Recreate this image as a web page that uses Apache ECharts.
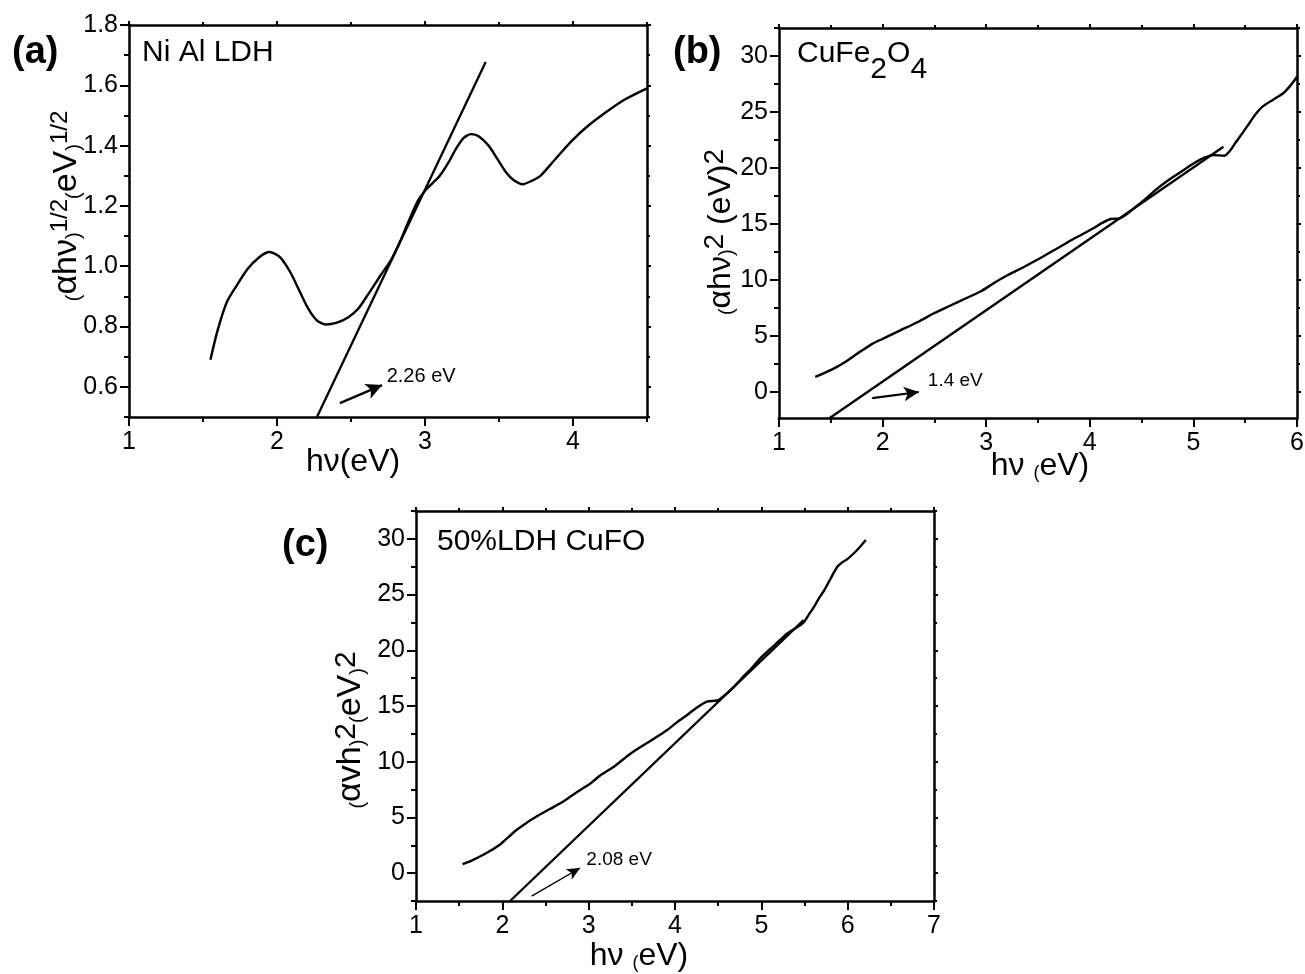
<!DOCTYPE html>
<html>
<head>
<meta charset="utf-8">
<script src="https://cdn.jsdelivr.net/npm/echarts@6.0.0/dist/echarts.min.js"></script>
<style>
html, body { margin: 0; padding: 0; background: #fff; }
#chart { width: 1305px; height: 974px; }
</style>
</head>
<body>
<div id="chart"></div>
<script>
// values
var curveA = [[1.55,0.69],[1.60,0.79],[1.66,0.88],[1.72,0.93],[1.80,0.99],[1.88,1.03],[1.95,1.047],[2.02,1.03],[2.09,0.98],[2.15,0.92],[2.21,0.86],[2.27,0.82],[2.33,0.807],[2.40,0.812],[2.48,0.83],[2.55,0.86],[2.62,0.91],[2.70,0.97],[2.77,1.02],[2.83,1.08],[2.89,1.15],[2.95,1.215],[3.00,1.25],[3.05,1.275],[3.10,1.30],[3.16,1.345],[3.21,1.39],[3.26,1.425],[3.31,1.438],[3.36,1.432],[3.43,1.40],[3.49,1.355],[3.55,1.31],[3.60,1.285],[3.66,1.272],[3.72,1.283],[3.78,1.30],[3.88,1.355],[3.99,1.415],[4.10,1.465],[4.22,1.51],[4.35,1.553],[4.50,1.59]];
var tangentA = [[2.27, 0.5], [3.41, 1.677]];
var arrowA = [[2.425, 0.546], [2.71, 0.606]];

var curveB = [[1.35,1.35],[1.45,1.75],[1.55,2.2],[1.65,2.75],[1.72,3.2],[1.80,3.7],[1.90,4.3],[2.00,4.75],[2.17,5.5],[2.35,6.3],[2.50,7.05],[2.65,7.7],[2.80,8.35],[2.95,9.0],[3.07,9.7],[3.20,10.4],[3.35,11.1],[3.55,12.1],[3.70,12.9],[3.85,13.7],[4.03,14.6],[4.12,15.1],[4.20,15.45],[4.29,15.5],[4.36,15.9],[4.45,16.6],[4.52,17.1],[4.63,18.0],[4.74,18.8],[4.87,19.6],[5.00,20.4],[5.10,20.9],[5.19,21.15],[5.30,21.1],[5.35,21.5],[5.41,22.3],[5.48,23.2],[5.54,24.0],[5.60,24.8],[5.67,25.5],[5.77,26.1],[5.87,26.7],[5.94,27.4],[6.00,28.15]];
var tangentB = [[1.49, -2.32], [5.29, 21.9]];
var arrowB = [[1.90, -0.54], [2.35, 0.0]];

var curveC = [[1.54,0.8],[1.65,1.15],[1.78,1.65],[1.88,2.1],[1.97,2.55],[2.08,3.3],[2.16,3.85],[2.25,4.35],[2.40,5.1],[2.55,5.75],[2.71,6.45],[2.85,7.2],[3.02,8.05],[3.14,8.8],[3.30,9.6],[3.48,10.7],[3.70,11.8],[3.91,12.85],[4.05,13.7],[4.14,14.2],[4.25,14.85],[4.37,15.4],[4.49,15.5],[4.58,16.0],[4.68,16.7],[4.80,17.7],[4.90,18.5],[4.99,19.3],[5.10,20.1],[5.20,20.8],[5.30,21.5],[5.40,22.0],[5.49,22.5],[5.55,23.2],[5.61,23.9],[5.67,24.7],[5.73,25.4],[5.80,26.4],[5.88,27.5],[5.94,27.9],[6.00,28.2],[6.11,29.0],[6.21,29.9]];
var tangentC = [[2.09, -2.5], [5.49, 22.7]];
var arrowC = [[2.34, -2.06], [2.90, 0.46]];

var xTicksA = [1, 2, 3, 4];
var yTicksA = [0.6, 0.8, 1.0, 1.2, 1.4, 1.6, 1.8];
var xTicksB = [1, 2, 3, 4, 5, 6];
var xTicksC = [1, 2, 3, 4, 5, 6, 7];
var yTicksBC = [0, 5, 10, 15, 20, 25, 30];
var gapLabels = ['2.26 eV', '1.4 eV', '2.08 eV'];

var FONT = "'Liberation Sans', Arial, sans-serif";

var panels = [
  { grid: { left: 129, top: 25, width: 518, height: 392 }, x: [1, 4.5], y: [0.5, 1.8],
    xt: xTicksA, yt: yTicksA, xs: 1, ys: 0.2, yfmt: function (v) { return v.toFixed(1); },
    curve: curveA, tan: tangentA, arrow: arrowA, gap: gapLabels[0],
    padX: 0, lift: 7, gapSize: 20, arrowW: 2.4, arrowSym: [12, 16] },
  { grid: { left: 779, top: 28, width: 518, height: 390 }, x: [1, 6], y: [-2.32, 32.5],
    xt: xTicksB, yt: yTicksBC, xs: 1, ys: 5, yfmt: function (v) { return String(v); },
    curve: curveB, tan: tangentB, arrow: arrowB, gap: gapLabels[1],
    padX: 4, lift: 11, gapSize: 19, arrowW: 2.2, arrowSym: [11, 15] },
  { grid: { left: 416, top: 511, width: 518, height: 390 }, x: [1, 7], y: [-2.5, 32.5],
    xt: xTicksC, yt: yTicksBC, xs: 1, ys: 5, yfmt: function (v) { return String(v); },
    curve: curveC, tan: tangentC, arrow: arrowC, gap: gapLabels[2],
    padX: 2, lift: 6, gapSize: 19, arrowW: 1.4, arrowSym: [9, 13] }
];

function halfSteps(ticks, step, lo, hi) {
  var out = [];
  ticks.forEach(function (t) {
    [t - step / 2, t + step / 2].forEach(function (v) {
      v = +v.toFixed(4);
      if (v >= lo - 1e-9 && v <= hi + 1e-9 && out.indexOf(v) < 0) out.push(v);
    });
  });
  return out;
}

function axis(gi, pos, range, ticks, len, withLine, label) {
  return {
    type: 'value', gridIndex: gi, position: pos, min: range[0], max: range[1],
    splitLine: { show: false },
    axisLine: { show: withLine, onZero: false, lineStyle: { color: '#000', width: 2.5, cap: 'square' } },
    axisTick: { show: true, inside: false, length: len, customValues: ticks,
      lineStyle: { color: '#000', width: 2 } },
    axisLabel: label ? Object.assign({ show: true, customValues: ticks, color: '#000',
      fontSize: 25, fontFamily: FONT }, label) : { show: false }
  };
}

var grids = [], xAxes = [], yAxes = [], series = [];
panels.forEach(function (p, i) {
  grids.push(Object.assign({ containLabel: false, outerBoundsMode: 'none' }, p.grid));
  var xm = halfSteps(p.xt, p.xs, p.x[0], p.x[1]);
  var ym = halfSteps(p.yt, p.ys, p.y[0], p.y[1]);
  xAxes.push(axis(i, 'bottom', p.x, p.xt, 9, true, { margin: 13 }));
  xAxes.push(axis(i, 'bottom', p.x, xm, 5, false));
  xAxes.push(axis(i, 'top', p.x, p.xt, 4, true));
  xAxes.push(axis(i, 'top', p.x, xm, 3, false));
  yAxes.push(axis(i, 'left', p.y, p.yt, 9, true, { margin: 11, formatter: p.yfmt }));
  yAxes.push(axis(i, 'left', p.y, ym, 5, false));
  yAxes.push(axis(i, 'right', p.y, p.yt, 4, true));
  yAxes.push(axis(i, 'right', p.y, ym, 3, false));

  series.push({
    type: 'line', xAxisIndex: i * 4, yAxisIndex: i * 4, data: p.curve,
    symbol: 'none', smooth: 0.25, silent: true,
    lineStyle: { color: '#000', width: 2.4 }
  });
  series.push({
    type: 'line', xAxisIndex: i * 4, yAxisIndex: i * 4, data: p.tan,
    symbol: 'none', silent: true,
    lineStyle: { color: '#000', width: 2.3 },
    markLine: {
      silent: true, animation: false, symbol: ['none', 'arrow'], symbolSize: p.arrowSym,
      lineStyle: { color: '#000', width: p.arrowW, type: 'solid' },
      emphasis: { disabled: true },
      label: {
        show: true, position: 'end', padding: [0, 0, 0, p.padX],
        formatter: '{t|' + p.gap + '}\n{g| }',
        rich: {
          t: { color: '#000', fontSize: p.gapSize, fontFamily: FONT, lineHeight: p.gapSize + 2 },
          g: { fontSize: 2, lineHeight: p.gapSize + 2 + 2 * p.lift - (p.gapSize + 2) + 0 }
        }
      },
      data: [[{ coord: p.arrow[0] }, { coord: p.arrow[1] }]]
    }
  });
});

function txt(x, y, text, font, extra) {
  return Object.assign({ type: 'text', x: x, y: y, silent: true,
    style: Object.assign({ text: text, font: font, fill: '#000', verticalAlign: 'middle' }, extra || {}) });
}
function rich(sz) {
  var r = {};
  Object.keys(sz).forEach(function (k) {
    r[k] = { fontSize: sz[k][0], lineHeight: sz[k][1], verticalAlign: sz[k][2],
      fontFamily: FONT, fill: '#000' };
  });
  return r;
}
function richText(x, y, text, r, rot, align) {
  return { type: 'text', x: x, y: y, rotation: rot || 0, silent: true,
    style: { text: text, rich: r, align: align || 'center', verticalAlign: 'middle', fill: '#000', font: '30px ' + FONT } };
}

var graphic = [
  txt(12, 53, '(a)', 'bold 38px ' + FONT),
  txt(673, 53, '(b)', 'bold 38px ' + FONT),
  txt(282, 546, '(c)', 'bold 38px ' + FONT),
  txt(142, 53, 'Ni Al LDH', '30px ' + FONT),
  txt(437, 542, '50%LDH CuFO', '30px ' + FONT),
  { type: 'text', x: 797, y: 39, silent: true,
    style: { text: '{m|CuFe}{d|2}{m|O}{d|4}', verticalAlign: 'top',
      rich: rich({ m: [30, 30, 'top'], d: [30, 46, 'bottom'] }) } },
  // axis titles
  richText(353, 461, '{b|h\u03bd(eV)}', rich({ b: [32, 34, 'bottom'] })),
  richText(1040, 465, '{b|h\u03bd }{p|(}{b|eV)}', rich({ b: [32, 34, 'bottom'], p: [18, 18, 'bottom'] })),
  richText(639, 955, '{b|h\u03bd }{p|(}{b|eV)}', rich({ b: [32, 34, 'bottom'], p: [18, 18, 'bottom'] })),
  richText(66, 206, '{p|(}{b|\u03b1h\u03bd}{p|)}{s|1/2}{p|(}{b|eV}{p|)}{s|1/2}',
    rich({ p: [20, 22, 'bottom'], b: [34, 36, 'bottom'], s: [24, 24, 'top'] }), Math.PI / 2),
  richText(719, 232, '{p|(}{b|\u03b1h\u03bd}{p|)}{s|2}{b| (eV)}{s|2}',
    rich({ p: [20, 22, 'bottom'], b: [32, 36, 'bottom'], s: [28, 28, 'top'] }), Math.PI / 2),
  richText(350, 730, '{p|(}{b|\u03b1vh}{p|)}{s|2}{p|(}{b|eV}{p|)}{s|2}',
    rich({ p: [20, 22, 'bottom'], b: [34, 36, 'bottom'], s: [30, 28, 'top'] }), Math.PI / 2)
];

var chart = echarts.init(document.getElementById('chart'), null, { renderer: 'canvas' });
chart.setOption({
  animation: false,
  backgroundColor: '#fff',
  grid: grids,
  xAxis: xAxes,
  yAxis: yAxes,
  series: series,
  graphic: graphic
});
</script>
</body>
</html>
